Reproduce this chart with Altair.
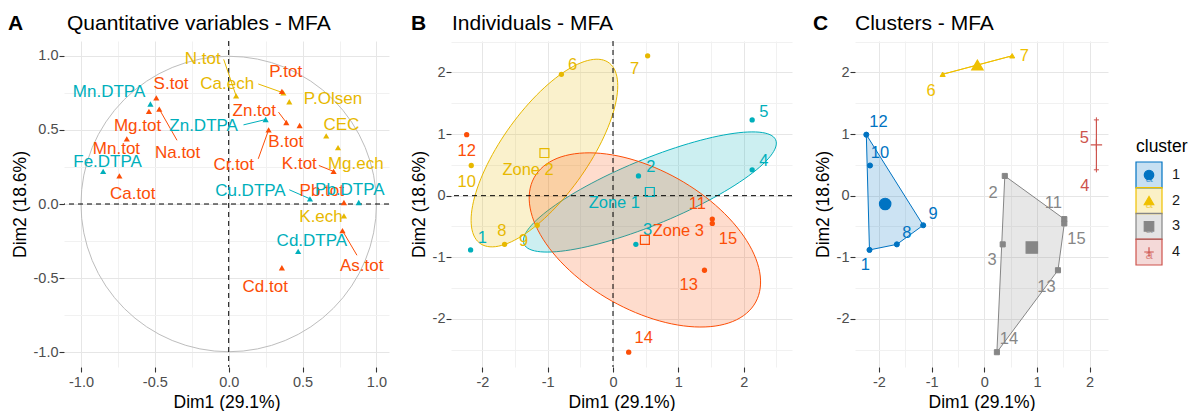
import numpy as np
import pandas as pd
import altair as alt

FONT = "Liberation Sans"

# ---------------- Panel A : quantitative variables ----------------
var_names = ["Mn.DTPA", "S.tot", "Mg.tot", "Na.tot", "Zn.DTPA", "Mn.tot", "Fe.DTPA", "Ca.tot",
             "N.tot", "Ca.ech", "P.tot", "P.Olsen", "Zn.tot", "B.tot", "Cr.tot", "CEC", "Mg.ech",
             "K.tot", "Cu.DTPA", "Pb.tot", "Pb.DTPA", "K.ech", "As.tot", "Cd.DTPA", "Cd.tot"]
var_group = ["DTPA", "Total", "Total", "Total", "DTPA", "Total", "DTPA", "Total",
             "Fertility", "Fertility", "Total", "Fertility", "Total", "Total", "Total", "Fertility", "Fertility",
             "Total", "DTPA", "Total", "DTPA", "Fertility", "Total", "DTPA", "Total"]
var_dim1 = [-0.53, -0.49, -0.54, -0.47, 0.25, -0.69, -0.85, -0.74,
            0.05, 0.37, 0.36, 0.41, 0.39, 0.48, 0.27, 0.66, 0.74,
            0.71, 0.55, 0.78, 0.88, 0.78, 0.77, 0.47, 0.36]
var_dim2 = [0.675, 0.716, 0.625, 0.64, 0.57, 0.44, 0.22, 0.19,
            0.73, 0.75, 0.76, 0.69, 0.55, 0.53, 0.50, 0.46, 0.38,
            0.22, 0.035, 0.01, 0.01, -0.08, -0.18, -0.32, -0.43]
var_lab_x = [-0.81, -0.39, -0.617, -0.346, -0.17, -0.76, -0.82, -0.65,
             -0.176, -0.01, 0.386, 0.706, 0.173, 0.386, 0.034, 0.763, 0.86,
             0.478, 0.147, 0.63, 0.82, 0.625, 0.90, 0.563, 0.247]
var_lab_y = [0.754, 0.81, 0.525, 0.345, 0.525, 0.372, 0.283, 0.069,
             0.98, 0.81, 0.89, 0.71, 0.63, 0.417, 0.26, 0.53, 0.27,
             0.267, 0.0875, 0.0875, 0.095, -0.088, -0.418, -0.25, -0.56]
nan = float("nan")
var_seg_x = [nan, nan, nan, -0.35, 0.10, nan, nan, nan,
             -0.034, 0.20, nan, nan, 0.337, nan, 0.20, nan, nan,
             0.61, 0.41, nan, nan, nan, 0.868, nan, nan]
var_seg_y = [nan, nan, nan, 0.43, 0.534, nan, nan, nan,
             0.976, 0.81, nan, nan, 0.62, nan, 0.305, nan, nan,
             0.26, 0.096, nan, nan, nan, -0.346, nan, nan]

# ---------------- Panels B / C : individuals ----------------
ind_id = [str(i) for i in range(1, 16)]
ind_zone = ["Zone 1"] * 5 + ["Zone 2"] * 5 + ["Zone 3"] * 5
ind_dim1 = [-2.18, 0.39, 0.35, 2.13, 2.13, -0.79, 0.53, -1.66, -1.16, -2.17, 1.52, -2.24, 1.40, 0.24, 1.52]
ind_dim2 = [-0.88, 0.32, -0.79, 0.42, 1.23, 1.97, 2.27, -0.79, -0.48, 0.49, -0.38, 0.99, -1.21, -2.54, -0.45]
ind_labB_x = [-2.0, 0.58, 0.53, 2.31, 2.31, -0.62, 0.33, -1.70, -1.37, -2.24, 1.29, -2.24, 1.16, 0.47, 1.76]
ind_labB_y = [-0.69, 0.47, -0.56, 0.56, 1.36, 2.12, 2.06, -0.58, -0.73, 0.23, -0.14, 0.72, -1.45, -2.31, -0.70]
zone_names = ["Zone 1", "Zone 2", "Zone 3"]
zone_lab_x = [0.02, -1.30, 1.00]
zone_lab_y = [-0.12, 0.42, -0.57]

ind_cluster = [1, 3, 3, 4, 4, 2, 2, 1, 1, 1, 3, 1, 3, 3, 3]
ind_labC_x = [-2.26, 0.17, 0.15, 1.91, 1.90, -1.01, 0.76, -1.47, -0.97, -1.98, 1.31, -2.01, 1.18, 0.47, 1.75]
ind_labC_y = [-1.12, 0.04, -1.04, 0.16, 0.94, 1.70, 2.27, -0.60, -0.29, 0.69, -0.12, 1.19, -1.48, -2.32, -0.70]
cluster_names = ["1", "2", "3", "4"]

# axis tick values
ticks_A = [-1.0, -0.75, -0.5, -0.25, 0.0, 0.25, 0.5, 0.75, 1.0]
ticks_Bx = [-2.0, -1.5, -1.0, -0.5, 0.0, 0.5, 1.0, 1.5, 2.0, 2.5]
ticks_By = [-2.5, -2.0, -1.5, -1.0, -0.5, 0.0, 0.5, 1.0, 1.5, 2.0, 2.5]
ticks_Cx = [-2.0, -1.5, -1.0, -0.5, 0.0, 0.5, 1.0, 1.5, 2.0]

# ---------------- styling ----------------
group_colors = {"DTPA": "#00AFBB", "Fertility": "#E7B800", "Total": "#FC4E07"}
zone_colors = {"Zone 1": "#00AFBB", "Zone 2": "#E7B800", "Zone 3": "#FC4E07"}
cluster_colors = {"1": "#0073C2", "2": "#EFC000", "3": "#868686", "4": "#CD534C"}
PLUS = "M-1,0H1M0,-1V1"
cluster_shapes = {"1": "circle", "2": "triangle-up", "3": "square", "4": PLUS}
ELLIPSE_SCALE = 1.095

A_xdom, A_ydom = [-1.115, 1.085], [-1.1, 1.1]
B_xdom, B_ydom = [-2.48, 2.74], [-2.78, 2.51]
C_xdom = [-2.455, 2.35]
A_W, A_H = 325, 326
B_W, B_H = 341, 326
C_W = 253
L_W = 60
TITLE_FS = 21


def grid_axis(values, major_step, fmt, title):
    k = 1.0 / major_step
    test = f"abs(datum.value*{k} - round(datum.value*{k})) < 0.001"
    lab = f"{test} ? (datum.value < -0.0001 ? '-' : '') + format(abs(datum.value), '{fmt}') : ''"
    return alt.Axis(values=values, labelExpr=lab, title=title,
                    tickOpacity={"condition": {"test": test, "value": 1}, "value": 0},
                    gridColor={"condition": {"test": test, "value": "#E6E6E6"}, "value": "#F1F1F1"})


def make_xy(xdom, ydom, xaxis, yaxis):
    def X(f):
        return alt.X(f"{f}:Q", scale=alt.Scale(domain=xdom, nice=False, zero=False), axis=xaxis)

    def Y(f):
        return alt.Y(f"{f}:Q", scale=alt.Scale(domain=ydom, nice=False, zero=False), axis=yaxis)
    return X, Y


def headings(letter, text, letter_x, text_x):
    d = pd.DataFrame({"a": [letter], "b": [text]})
    let = alt.Chart(d).mark_text(font=FONT, fontSize=TITLE_FS, fontWeight="bold", align="left",
                                 baseline="alphabetic", color="black").encode(
        x=alt.value(letter_x), y=alt.value(-11), text="a:N")
    tit = alt.Chart(d).mark_text(font=FONT, fontSize=TITLE_FS, align="left",
                                 baseline="alphabetic", color="black").encode(
        x=alt.value(text_x), y=alt.value(-11), text="b:N")
    return [let, tit]


one = pd.DataFrame({"x": [0.0], "y": [0.0]})

# ---------------- Panel A ----------------
dfA = pd.DataFrame({"name": var_names, "group": var_group, "x": var_dim1, "y": var_dim2,
                    "lx": var_lab_x, "ly": var_lab_y, "sx": var_seg_x, "sy": var_seg_y})
dfA["col"] = dfA["group"].map(group_colors)
XA, YA = make_xy(A_xdom, A_ydom,
                 grid_axis(ticks_A, 0.5, ".1f", "Dim1 (29.1%)"),
                 grid_axis(ticks_A, 0.5, ".1f", "Dim2 (18.6%)"))
px_per_unit = min(A_W / (A_xdom[1] - A_xdom[0]), A_H / (A_ydom[1] - A_ydom[0]))
circle_size = (2 * px_per_unit) ** 2

a_circle = alt.Chart(one).mark_point(shape="circle", filled=False, size=circle_size,
                                     color="#BDBDBD", strokeWidth=1, opacity=1).encode(x=XA("x"), y=YA("y"))
a_v = alt.Chart(one).mark_rule(color="black", strokeDash=[5, 4], strokeWidth=1).encode(x=XA("x"))
a_h = alt.Chart(one).mark_rule(color="black", strokeDash=[5, 4], strokeWidth=1).encode(y=YA("y"))
a_seg = alt.Chart(dfA.dropna()).mark_rule(strokeWidth=1).encode(
    x=XA("x"), y=YA("y"), x2="sx:Q", y2="sy:Q", color=alt.Color("col:N", scale=None))
a_pts = alt.Chart(dfA).mark_point(shape="triangle-up", filled=True, size=38, opacity=1).encode(
    x=XA("x"), y=YA("y"), color=alt.Color("col:N", scale=None))
a_txt = alt.Chart(dfA).mark_text(font=FONT, fontSize=17, baseline="middle").encode(
    x=XA("lx"), y=YA("ly"), text="name:N", color=alt.Color("col:N", scale=None))
panelA = alt.layer(a_circle, a_v, a_h, a_seg, a_pts, a_txt,
                   *headings("A", "Quantitative variables - MFA", -56, 3)).properties(width=A_W, height=A_H)

# ---------------- Panel B ----------------
dfI = pd.DataFrame({"id": ind_id, "zone": ind_zone, "x": ind_dim1, "y": ind_dim2,
                    "lbx": ind_labB_x, "lby": ind_labB_y, "cluster": [str(c) for c in ind_cluster],
                    "lcx": ind_labC_x, "lcy": ind_labC_y})
dfI["zcol"] = dfI["zone"].map(zone_colors)
dfI["ccol"] = dfI["cluster"].map(cluster_colors)
dfI["cshape"] = dfI["cluster"].map(cluster_shapes)

XB, YB = make_xy(B_xdom, B_ydom,
                 grid_axis(ticks_Bx, 1.0, ".0f", "Dim1 (29.1%)"),
                 grid_axis(ticks_By, 1.0, ".0f", "Dim2 (18.6%)"))


def ellipse_df(sub):
    pts = sub[["x", "y"]].to_numpy()
    mu = pts.mean(axis=0)
    vals, vecs = np.linalg.eigh(np.cov(pts.T))
    t = np.linspace(0, 2 * np.pi, 121)
    circ = np.column_stack([np.cos(t), np.sin(t)])
    e = mu + ELLIPSE_SCALE * circ @ (vecs * np.sqrt(vals)).T
    return pd.DataFrame({"x": e[:, 0], "y": e[:, 1], "i": np.arange(len(t))})


b_layers = []
for z in zone_names:
    ed = ellipse_df(dfI[dfI["zone"] == z])
    b_layers.append(alt.Chart(ed).mark_line(fill=zone_colors[z], fillOpacity=0.2, stroke=zone_colors[z],
                                            strokeWidth=1).encode(x=XB("x"), y=YB("y"), order="i:Q"))
b_layers.append(alt.Chart(one).mark_rule(color="black", strokeDash=[5, 4], strokeWidth=1).encode(x=XB("x")))
b_layers.append(alt.Chart(one).mark_rule(color="black", strokeDash=[5, 4], strokeWidth=1).encode(y=YB("y")))
b_layers.append(alt.Chart(dfI).mark_point(shape="circle", filled=True, size=28, opacity=1).encode(
    x=XB("x"), y=YB("y"), color=alt.Color("zcol:N", scale=None)))
b_layers.append(alt.Chart(dfI).mark_text(font=FONT, fontSize=16.5, baseline="middle").encode(
    x=XB("lbx"), y=YB("lby"), text="id:N", color=alt.Color("zcol:N", scale=None)))
zmean = dfI.groupby("zone", as_index=False)[["x", "y"]].mean()
zmean["zcol"] = zmean["zone"].map(zone_colors)
zl = pd.DataFrame({"zone": zone_names, "lx": zone_lab_x, "ly": zone_lab_y})
zl["zcol"] = zl["zone"].map(zone_colors)
b_layers.append(alt.Chart(zmean).mark_point(shape="square", filled=False, size=80, strokeWidth=1.2,
                                            opacity=1).encode(
    x=XB("x"), y=YB("y"), color=alt.Color("zcol:N", scale=None)))
b_layers.append(alt.Chart(zl).mark_text(font=FONT, fontSize=16.5, baseline="middle").encode(
    x=XB("lx"), y=YB("ly"), text="zone:N", color=alt.Color("zcol:N", scale=None)))
panelB = alt.layer(*b_layers, *headings("B", "Individuals - MFA", -40, 1)).properties(width=B_W, height=B_H)

# ---------------- Panel C ----------------
XC, YC = make_xy(C_xdom, B_ydom,
                 grid_axis(ticks_Cx, 1.0, ".0f", "Dim1 (29.1%)"),
                 grid_axis(ticks_By, 1.0, ".0f", "Dim2 (18.6%)"))


def hull_df(sub):
    pts = sorted(set(zip(sub["x"], sub["y"])))
    if len(pts) > 2:
        def cross(o, a, b):
            return (a[0] - o[0]) * (b[1] - o[1]) - (a[1] - o[1]) * (b[0] - o[0])
        lower, upper = [], []
        for p in pts:
            while len(lower) >= 2 and cross(lower[-2], lower[-1], p) <= 0:
                lower.pop()
            lower.append(p)
        for p in reversed(pts):
            while len(upper) >= 2 and cross(upper[-2], upper[-1], p) <= 0:
                upper.pop()
            upper.append(p)
        pts = lower[:-1] + upper[:-1]
    pts = pts + [pts[0]]
    return pd.DataFrame({"x": [p[0] for p in pts], "y": [p[1] for p in pts], "i": range(len(pts))})


c_layers = []
for c in cluster_names:
    hd = hull_df(dfI[dfI["cluster"] == c])
    c_layers.append(alt.Chart(hd).mark_line(fill=cluster_colors[c], fillOpacity=0.2, stroke=cluster_colors[c],
                                            strokeWidth=1).encode(x=XC("x"), y=YC("y"), order="i:Q"))
c_layers.append(alt.Chart(dfI).mark_point(filled=True, size=26, strokeWidth=1, opacity=1).encode(
    x=XC("x"), y=YC("y"), shape=alt.Shape("cshape:N", scale=None),
    fill=alt.Fill("ccol:N", scale=None), stroke=alt.Stroke("ccol:N", scale=None)))
cmean = dfI.groupby("cluster", as_index=False)[["x", "y"]].mean()
cmean["ccol"] = cmean["cluster"].map(cluster_colors)
cmean["cshape"] = cmean["cluster"].map(cluster_shapes)
c_layers.append(alt.Chart(cmean).mark_point(filled=True, size=130, strokeWidth=1.2, opacity=1).encode(
    x=XC("x"), y=YC("y"), shape=alt.Shape("cshape:N", scale=None),
    fill=alt.Fill("ccol:N", scale=None), stroke=alt.Stroke("ccol:N", scale=None)))
c_layers.append(alt.Chart(dfI).mark_text(font=FONT, fontSize=16.5, baseline="middle").encode(
    x=XC("lcx"), y=YC("lcy"), text="id:N", color=alt.Color("ccol:N", scale=None)))
panelC = alt.layer(*c_layers, *headings("C", "Clusters - MFA", -42, 0)).properties(width=C_W, height=B_H)

# ---------------- Legend panel ----------------
dfL = pd.DataFrame({"cluster": cluster_names})
dfL["col"] = dfL["cluster"].map(cluster_colors)
dfL["shape"] = dfL["cluster"].map(cluster_shapes)
dfL["a"] = "a"
yL = alt.Y("cluster:N", scale=alt.Scale(type="point", domain=cluster_names, range=[134, 211], padding=0),
           axis=None)
l_box = alt.Chart(dfL).mark_point(shape="square", size=676, filled=True, fillOpacity=0.22,
                                  strokeWidth=1.2, strokeOpacity=1, opacity=1).encode(
    x=alt.value(21), y=yL, fill=alt.Fill("col:N", scale=None), stroke=alt.Stroke("col:N", scale=None))
l_a = alt.Chart(dfL).mark_text(font=FONT, fontSize=13, baseline="middle", dy=3, opacity=0.6).encode(
    x=alt.value(21), y=yL, text="a:N", color=alt.Color("col:N", scale=None))
l_sym = alt.Chart(dfL).mark_point(filled=True, size=90, strokeWidth=1.2, opacity=1).encode(
    x=alt.value(21), y=yL, shape=alt.Shape("shape:N", scale=None),
    fill=alt.Fill("col:N", scale=None), stroke=alt.Stroke("col:N", scale=None))
l_lab = alt.Chart(dfL).mark_text(font=FONT, fontSize=14.5, align="left", baseline="middle", color="#1A1A1A").encode(
    x=alt.value(44), y=yL, text="cluster:N")
l_title = alt.Chart(pd.DataFrame({"t": ["cluster"]})).mark_text(
    font=FONT, fontSize=17.5, align="left", baseline="middle", color="black").encode(
    x=alt.value(8), y=alt.value(106), text="t:N")
panelL = alt.layer(l_box, l_a, l_sym, l_lab, l_title).properties(width=L_W, height=B_H)

chart = alt.hconcat(panelA, panelB, panelC, panelL, spacing=20).properties(
    padding={"left": 0, "top": 5, "right": 0, "bottom": 0}
).configure_view(stroke=None).configure_axis(
    labelFont=FONT, labelFontSize=14.5, labelColor="#4D4D4D", tickColor="#333333", tickSize=5,
    tickWidth=1.1, domain=False, titleFont=FONT, titleFontSize=17.5, titleFontWeight="normal",
    titleColor="black", gridWidth=1
).configure_axisX(labelPadding=3, titlePadding=5).configure_axisY(labelPadding=1, titlePadding=4)

chart.save("out.html", embed_options={"renderer": "svg", "actions": False})
